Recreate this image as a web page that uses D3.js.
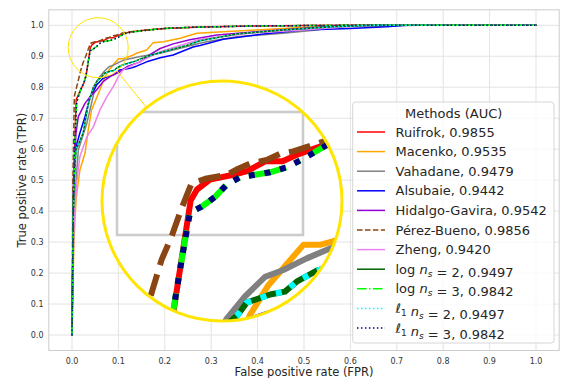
<!DOCTYPE html>
<html>
<head>
<meta charset="utf-8">
<script src="https://cdn.jsdelivr.net/npm/d3@7"></script>
<style>
  html, body { margin: 0; padding: 0; background: #fff; }
  svg { display: block; font-family: "DejaVu Sans", sans-serif; }
</style>
</head>
<body>
<svg id="chart" width="561" height="378"></svg>
<script>
// ---- data ----
const xTicks = [0, 0.1, 0.2, 0.3, 0.4, 0.5, 0.6, 0.7, 0.8, 0.9, 1.0];
const yTicks = [0, 0.1, 0.2, 0.3, 0.4, 0.5, 0.6, 0.7, 0.8, 0.9, 1.0];

const methods = ['Ruifrok', 'Macenko', 'Vahadane', 'Alsubaie', 'Hidalgo-Gavira',
  'Pérez-Bueno', 'Zheng', 'log n_s = 2', 'log n_s = 3', 'ℓ_1 n_s = 2', 'ℓ_1 n_s = 3'];
const aucs = ['0.9855', '0.9535', '0.9479', '0.9442', '0.9542', '0.9856', '0.9420',
  '0.9497', '0.9842', '0.9497', '0.9842'];

const fprRuifrok = [0, 0.003, 0.006, 0.009, 0.018, 0.026, 0.0306, 0.0396, 0.043, 0.05, 0.0625, 0.07, 0.08, 0.089, 0.098, 0.111, 0.125, 0.15, 0.2, 0.25, 0.3, 0.4, 0.5, 0.6, 1.0];
const tprRuifrok = [0, 0.40, 0.62, 0.76, 0.79, 0.815, 0.840, 0.928, 0.937, 0.945, 0.949, 0.952, 0.960, 0.960, 0.966, 0.973, 0.978, 0.983, 0.990, 0.993, 0.995, 0.998, 0.999, 1.0, 1.0];

const fprMacenko = [0, 0.004, 0.0086, 0.017, 0.028, 0.035, 0.042, 0.057, 0.0675, 0.0715, 0.0813, 0.1002, 0.109, 0.1154, 0.132, 0.139, 0.161, 0.175, 0.197, 0.233, 0.269, 0.326, 0.398, 0.455, 0.527, 0.6, 0.7, 1.0];
const tprMacenko = [0, 0.30, 0.436, 0.533, 0.587, 0.662, 0.726, 0.78, 0.82, 0.835, 0.859, 0.892, 0.892, 0.8945, 0.904, 0.91, 0.92, 0.944, 0.947, 0.958, 0.974, 0.979, 0.985, 0.99, 0.995, 0.998, 1.0, 1.0];

const fprVahadane = [0, 0.004, 0.0136, 0.032, 0.042, 0.053, 0.059, 0.0688, 0.0796, 0.0894, 0.102, 0.1145, 0.147, 0.19, 0.233, 0.276, 0.29, 0.355, 0.455, 0.527, 0.57, 0.67, 0.75, 1.0];
const tprVahadane = [0, 0.40, 0.597, 0.684, 0.748, 0.818, 0.832, 0.85, 0.866, 0.8715, 0.881, 0.889, 0.899, 0.91, 0.926, 0.942, 0.947, 0.963, 0.974, 0.985, 0.995, 0.998, 1.0, 1.0];

const fprAlsubaie = [0, 0.003, 0.0065, 0.017, 0.028, 0.039, 0.053, 0.067, 0.089, 0.103, 0.125, 0.139, 0.161, 0.19, 0.218, 0.261, 0.276, 0.326, 0.412, 0.498, 0.6, 0.678, 0.72, 1.0];
const tprAlsubaie = [0, 0.45, 0.597, 0.652, 0.705, 0.769, 0.807, 0.829, 0.84, 0.856, 0.861, 0.868, 0.882, 0.895, 0.904, 0.93, 0.935, 0.955, 0.972, 0.985, 0.99, 0.995, 1.0, 1.0];

const fprHidalgo = [0, 0.003, 0.0086, 0.0136, 0.028, 0.039, 0.053, 0.067, 0.082, 0.103, 0.118, 0.147, 0.168, 0.19, 0.218, 0.254, 0.312, 0.398, 0.491, 0.56, 0.65, 1.0];
const tprHidalgo = [0, 0.50, 0.652, 0.705, 0.748, 0.769, 0.791, 0.818, 0.834, 0.85, 0.866, 0.882, 0.905, 0.925, 0.94, 0.953, 0.969, 0.979, 0.99, 0.997, 1.0, 1.0];

const fprPerez = [0, 0.002, 0.005, 0.0186, 0.024, 0.0294, 0.0348, 0.0401, 0.0482, 0.059, 0.064, 0.0715, 0.0805, 0.0876, 0.0948, 0.111, 0.125, 0.15, 0.2, 0.25, 0.3, 0.4, 0.5, 0.6, 1.0];
const tprPerez = [0, 0.50, 0.77, 0.853, 0.880, 0.899, 0.922, 0.942, 0.946, 0.9488, 0.953, 0.958, 0.961, 0.966, 0.968, 0.976, 0.979, 0.983, 0.99, 0.993, 0.995, 0.998, 0.999, 1.0, 1.0];

const fprZheng = [0, 0.004, 0.01, 0.017, 0.032, 0.046, 0.06, 0.075, 0.089, 0.1, 0.11, 0.132, 0.161, 0.19, 0.233, 0.276, 0.384, 0.5, 0.59, 0.65, 1.0];
const tprZheng = [0, 0.35, 0.49, 0.576, 0.64, 0.672, 0.726, 0.769, 0.802, 0.834, 0.856, 0.872, 0.893, 0.915, 0.935, 0.955, 0.974, 0.985, 0.995, 1.0, 1.0];

// log n_s=2 and l1 n_s=2 give the same curve
const fprNs2 = [0, 0.003, 0.0086, 0.024, 0.035, 0.046, 0.055, 0.0649, 0.0697, 0.0823, 0.0903, 0.0966, 0.1074, 0.132, 0.161, 0.204, 0.247, 0.276, 0.355, 0.455, 0.56, 0.65, 1.0];
const tprNs2 = [0, 0.45, 0.597, 0.652, 0.745, 0.80, 0.822, 0.835, 0.845, 0.8516, 0.854, 0.862, 0.871, 0.882, 0.899, 0.918, 0.935, 0.95, 0.972, 0.985, 0.995, 1.0, 1.0];

// log n_s=3 and l1 n_s=3 give the same curve
const fprNs3 = [0, 0.003, 0.006, 0.01, 0.018, 0.026, 0.0303, 0.0339, 0.0366, 0.0392, 0.0455, 0.0527, 0.059, 0.0661, 0.0742, 0.0823, 0.0912, 0.1002, 0.1127, 0.125, 0.15, 0.2, 0.25, 0.3, 0.4, 0.5, 0.6, 1.0];
const tprNs3 = [0, 0.40, 0.62, 0.75, 0.79, 0.815, 0.839, 0.872, 0.896, 0.918, 0.923, 0.931, 0.941, 0.947, 0.949, 0.951, 0.955, 0.962, 0.973, 0.977, 0.982, 0.99, 0.993, 0.995, 0.998, 0.999, 1.0, 1.0];

// ---- styling ----
const series = [
  { fpr: fprRuifrok,  tpr: tprRuifrok,  color: 'red',         dash: 'solid' },
  { fpr: fprMacenko,  tpr: tprMacenko,  color: 'orange',      dash: 'solid' },
  { fpr: fprVahadane, tpr: tprVahadane, color: 'gray',        dash: 'solid' },
  { fpr: fprAlsubaie, tpr: tprAlsubaie, color: 'blue',        dash: 'solid' },
  { fpr: fprHidalgo,  tpr: tprHidalgo,  color: '#9400d3',     dash: 'solid' },
  { fpr: fprPerez,    tpr: tprPerez,    color: '#8b4513',     dash: 'dashed' },
  { fpr: fprZheng,    tpr: tprZheng,    color: 'violet',      dash: 'solid' },
  { fpr: fprNs2,      tpr: tprNs2,      color: 'darkgreen',   dash: 'solid' },
  { fpr: fprNs3,      tpr: tprNs3,      color: 'lime',        dash: 'dashdot' },
  { fpr: fprNs2,      tpr: tprNs2,      color: 'cyan',        dash: 'dotted' },
  { fpr: fprNs3,      tpr: tprNs3,      color: 'navy',        dash: 'dotted' }
].map((s, i) => ({ ...s, name: methods[i], auc: aucs[i],
  pts: s.fpr.map((f, j) => [f, s.tpr[j]]) }));

const dashBase = { solid: null, dashed: [3.7, 1.6], dotted: [1, 1.65], dashdot: [6.4, 1.6, 1, 1.6] };
function dashFor(type, lw) {
  const d = dashBase[type];
  return d ? d.map(v => v * lw).join(',') : null;
}

const yellow = '#ffe500';
const svg = d3.select('#chart');

const x = d3.scaleLinear().domain([-0.05, 1.05]).range([48.8, 559.2]);
const y = d3.scaleLinear().domain([-0.05, 1.05]).range([350.5, 9.8]);

// grid + frame
const grid = svg.append('g');
grid.selectAll('line.vx').data(xTicks).enter().append('line')
  .attr('x1', d => x(d)).attr('x2', d => x(d))
  .attr('y1', y.range()[0]).attr('y2', y.range()[1])
  .attr('stroke', '#e3e3e3').attr('stroke-width', 1);
grid.selectAll('line.hy').data(yTicks).enter().append('line')
  .attr('y1', d => y(d)).attr('y2', d => y(d))
  .attr('x1', x.range()[0]).attr('x2', x.range()[1])
  .attr('stroke', '#e3e3e3').attr('stroke-width', 1);
svg.append('rect')
  .attr('x', x.range()[0]).attr('y', y.range()[1])
  .attr('width', x.range()[1] - x.range()[0]).attr('height', y.range()[0] - y.range()[1])
  .attr('fill', 'none').attr('stroke', '#cccccc').attr('stroke-width', 1);

// tick labels
svg.append('g').selectAll('text').data(xTicks).enter().append('text')
  .attr('x', d => x(d)).attr('y', 361.5).attr('dy', '0.35em')
  .attr('text-anchor', 'middle').attr('font-size', 8).attr('fill', '#333')
  .text(d => d.toFixed(1));
svg.append('g').selectAll('text').data(yTicks).enter().append('text')
  .attr('x', 43.5).attr('y', d => y(d)).attr('dy', '0.35em')
  .attr('text-anchor', 'end').attr('font-size', 8).attr('fill', '#333')
  .text(d => d.toFixed(1));

svg.append('text').attr('x', (x.range()[0] + x.range()[1]) / 2).attr('y', 372).attr('dy', '0.35em')
  .attr('text-anchor', 'middle').attr('font-size', 11.5).attr('fill', '#262626')
  .text('False positive rate (FPR)');
svg.append('text')
  .attr('transform', `translate(22,${(y.range()[0] + y.range()[1]) / 2}) rotate(-90)`)
  .attr('dy', '0.35em').attr('text-anchor', 'middle').attr('font-size', 11.5).attr('fill', '#262626')
  .text('True positive rate (TPR)');

// main curves
function drawCurves(g, sx, sy, lw) {
  const line = d3.line().x(d => sx(d[0])).y(d => sy(d[1]));
  g.selectAll('path.curve').data(series).enter().append('path')
    .attr('class', 'curve')
    .attr('d', d => line(d.pts))
    .attr('fill', 'none')
    .attr('stroke', d => d.color)
    .attr('stroke-width', lw)
    .attr('stroke-linejoin', 'round')
    .attr('stroke-linecap', d => d.dash === 'solid' ? 'square' : 'butt')
    .attr('stroke-dasharray', d => dashFor(d.dash, lw));
}
drawCurves(svg.append('g'), x, y, 1.5);

// ---- zoomed inset ----
const xi = d3.scaleLinear().domain([0, 0.1]).range([117, 303]);
const yi = d3.scaleLinear().domain([0.9, 1.0]).range([235, 112]);
const big = { cx: 222, cy: 201, r: 120 };
const small = { cx: x(xi.invert(big.cx)), cy: y(yi.invert(big.cy)), r: 30 };

// marker circle + connector
svg.append('circle').attr('cx', small.cx).attr('cy', small.cy).attr('r', small.r)
  .attr('fill', 'none').attr('stroke', yellow).attr('stroke-width', 1);
const dx = big.cx - small.cx, dy = big.cy - small.cy, dl = Math.hypot(dx, dy);
svg.append('line')
  .attr('x1', small.cx + small.r * dx / dl).attr('y1', small.cy + small.r * dy / dl)
  .attr('x2', big.cx - big.r * dx / dl).attr('y2', big.cy - big.r * dy / dl)
  .attr('stroke', yellow).attr('stroke-width', 1);

svg.append('defs').append('clipPath').attr('id', 'insetClip')
  .append('circle').attr('cx', big.cx).attr('cy', big.cy).attr('r', big.r);
const inset = svg.append('g').attr('clip-path', 'url(#insetClip)');
inset.append('circle').attr('cx', big.cx).attr('cy', big.cy).attr('r', big.r).attr('fill', '#fff');
inset.append('rect')
  .attr('x', xi(0)).attr('y', yi(1.0))
  .attr('width', xi(0.1) - xi(0)).attr('height', yi(0.9) - yi(1.0))
  .attr('fill', 'none').attr('stroke', '#cccccc').attr('stroke-width', 2.6);
drawCurves(inset, xi, yi, 6);
svg.append('circle').attr('cx', big.cx).attr('cy', big.cy).attr('r', big.r)
  .attr('fill', 'none').attr('stroke', yellow).attr('stroke-width', 3);

// ---- legend ----
const lg = svg.append('g');
lg.append('rect').attr('x', 352.7).attr('y', 102).attr('width', 201.3).attr('height', 241)
  .attr('rx', 3).attr('fill', '#fff').attr('fill-opacity', 0.8)
  .attr('stroke', '#d6d6d6').attr('stroke-width', 1);
lg.append('text').attr('x', 453.7).attr('y', 113.5).attr('dy', '0.35em')
  .attr('text-anchor', 'middle').attr('font-size', 13).attr('fill', '#262626')
  .text('Methods (AUC)');

const rowY = i => 132 + i * 19.6;
series.forEach((s, i) => {
  lg.append('line').attr('x1', 357).attr('x2', 385).attr('y1', rowY(i)).attr('y2', rowY(i))
    .attr('stroke', s.color).attr('stroke-width', 1.5)
    .attr('stroke-dasharray', dashFor(s.dash, 1.5));
  const t = lg.append('text').attr('x', 395.5).attr('y', rowY(i)).attr('dy', '0.35em')
    .attr('font-size', 13).attr('fill', '#262626');
  // tiny mathtext: a_b -> italic a with subscript b
  const parts = s.name.split(/([a-zℓ])_(\w)/);
  for (let k = 0; k < parts.length; k++) {
    if (k % 3 === 0) {
      if (parts[k]) t.append('tspan').text(parts[k]);
    } else if (k % 3 === 1) {
      t.append('tspan').attr('font-style', 'italic').text(parts[k]);
    } else {
      t.append('tspan').attr('font-size', 9).attr('font-style', /\d/.test(parts[k]) ? 'normal' : 'italic')
        .attr('dy', 3).text(parts[k]);
      t.append('tspan').attr('dy', -3).text('');
    }
  }
  t.append('tspan').text(', ' + s.auc);
});
</script>
</body>
</html>
